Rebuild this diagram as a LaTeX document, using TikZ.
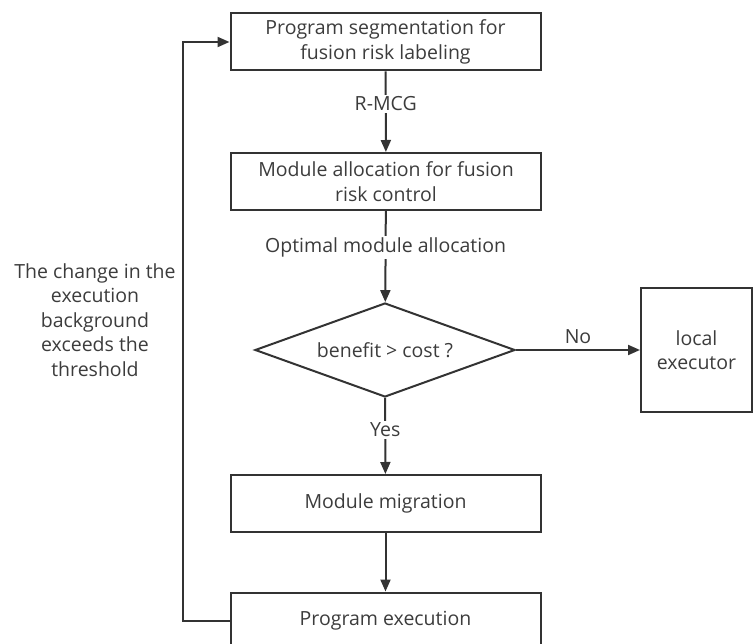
\documentclass[tikz,border=0pt]{standalone}
\usepackage{fontspec}
\setmainfont{Open Sans}
\usetikzlibrary{shapes.geometric,arrows.meta}
\definecolor{flowgray}{RGB}{51,51,51}
\definecolor{textgray}{RGB}{60,60,60}

\begin{document}
\begin{tikzpicture}[x=1pt, y=-1pt,
    process/.style={rectangle, draw=flowgray, line width=2pt,
        minimum width=310pt, minimum height=57pt, inner sep=0pt,
        font=\fontsize{19.5}{24.5}\selectfont, text=textgray, align=center},
    decision/.style={diamond, draw=flowgray, line width=2pt, aspect=2.77,
        minimum width=260pt, minimum height=94pt, inner sep=0pt,
        font=\fontsize{19.5}{24.5}\selectfont, text=textgray, align=center},
    arrow/.style={-{Triangle[length=12pt, width=10pt]}, line width=2pt, flowgray},
    edgelabel/.style={font=\fontsize{19.5}{24.5}\selectfont, text=textgray, fill=white,
        inner sep=2pt, align=center}
]
\clip (0,0) rectangle (753,644);

\node[process] (seg) at (385.5, 42) {Program segmentation for\\fusion risk labeling};
\node[process] (alloc) at (386, 181.5) {Module allocation for fusion\\risk control};
\node[decision] (dec) at (385, 350) {benefit > cost ?};
\node[process, minimum width=111pt, minimum height=124pt] (local) at (696.5, 350) {local\\executor};
\node[process] (migr) at (385.5, 503.5) {Module migration};
\node[process] (exec) at (385.5, 621) {Program execution};
\node[edgelabel, fill=none] (loop) at (95, 320) {The change in the\\execution\\background\\exceeds the\\threshold};

\draw[arrow] (seg) -- node[edgelabel, pos=0.4] {R-MCG} (alloc);
\draw[arrow] (alloc) -- node[edgelabel, pos=0.4] {Optimal module allocation} (dec);
\draw[arrow] (dec) -- node[edgelabel, fill=none, above, yshift=3pt] {No} (local);
\draw[arrow] (dec) -- node[edgelabel, pos=0.42] {Yes} (migr);
\draw[arrow] (migr) -- (exec);
\draw[arrow] (exec.west) -- ++(-47,0) |- (seg.west);

\end{tikzpicture}
\end{document}
